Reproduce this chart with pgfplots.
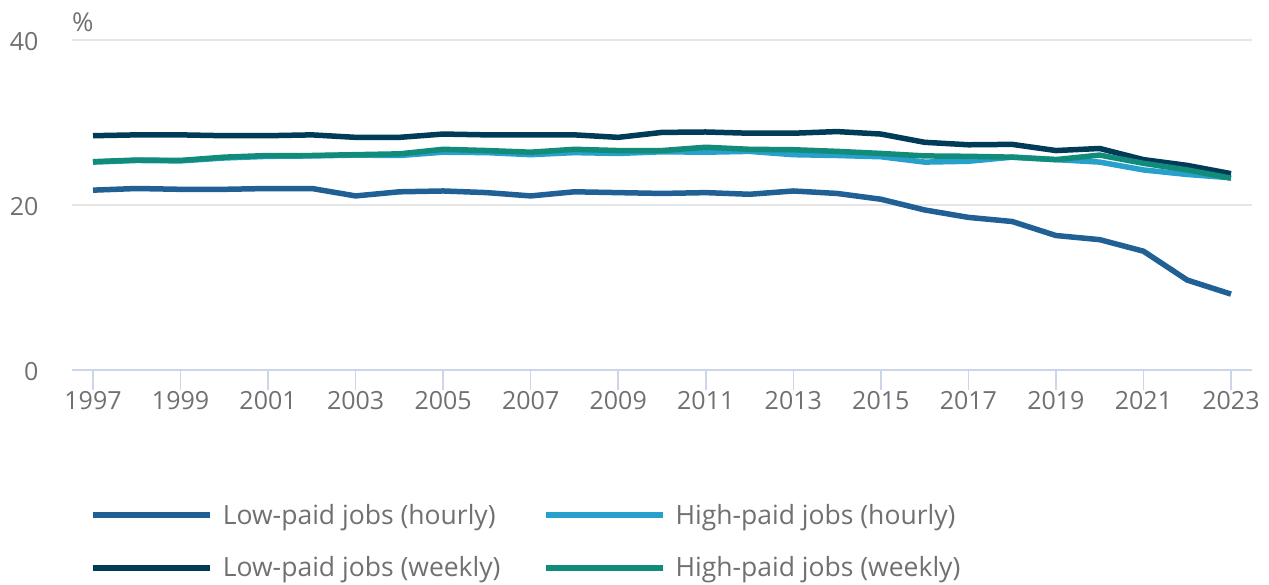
\documentclass[border=0pt]{standalone}
\usepackage{pgfplots}
\pgfplotsset{compat=1.18}
\usepackage{fontspec}
\setmainfont{Open Sans}
\definecolor{lowh}{HTML}{206095}
\definecolor{highh}{HTML}{27A0CC}
\definecolor{loww}{HTML}{003C57}
\definecolor{highw}{HTML}{118C7B}
\definecolor{txt}{HTML}{707070}
\definecolor{grid}{HTML}{E6E6E6}
\definecolor{axl}{HTML}{CCD6EB}
\begin{document}
\begin{tikzpicture}
\useasboundingbox (0,0) rectangle (1269pt,584pt);
\begin{axis}[
  at={(72pt,214pt)}, anchor=south west,
  scale only axis, width=1180pt, height=330pt,
  xmin=1996.52, xmax=2023.48, ymin=0, ymax=40,
  axis x line*=bottom, axis y line*=left,
  x axis line style={draw=axl, line width=1.5pt, -},
  y axis line style={draw=none},
  xtick={1997,1999,...,2023},
  ytick={0,20,40},
  ymajorgrids, grid style={draw=grid, line width=1.5pt},
  tick align=outside,
  major tick length=20pt,
  xtick style={draw=axl, line width=1.5pt},
  ytick style={draw=none},
  /pgf/number format/assume math mode=true,
  /pgf/number format/1000 sep={},
  tick label style={font=\fontsize{25}{30}\selectfont, text=txt},
  xticklabel style={yshift=2pt},
  yticklabel style={xshift=-10pt, yshift=-2pt},
  clip=false,
  legend columns=2,
  legend style={at={(0.015,-0.40)}, anchor=north west, draw=none, fill=none,
    font=\fontsize{26.5}{31}\selectfont, text=txt, row sep=27pt, inner sep=0pt,
    /tikz/every odd column/.append style={column sep=8pt},
    /tikz/every even column/.append style={column sep=40pt}},
  legend cell align=left,
  legend image code/.code={\draw[#1, line width=6pt] (0pt,0pt) -- (117pt,0pt);},
  every axis plot/.append style={line width=5.5pt, line join=round},
]
\addplot[lowh] coordinates {
(1997,21.8)(1998,22.0)(1999,21.9)(2000,21.9)(2001,22.0)(2002,22.0)(2003,21.1)(2004,21.6)(2005,21.7)(2006,21.5)(2007,21.1)(2008,21.6)(2009,21.5)(2010,21.4)(2011,21.5)(2012,21.3)(2013,21.7)(2014,21.4)(2015,20.7)(2016,19.4)(2017,18.5)(2018,18.0)(2019,16.3)(2020,15.8)(2021,14.4)(2022,10.9)(2023,9.2)};
\addlegendentry{Low-paid jobs (hourly)}
\addplot[highh] coordinates {
(1997,25.2)(1998,25.4)(1999,25.35)(2000,25.7)(2001,25.9)(2002,25.95)(2003,26.05)(2004,26.0)(2005,26.4)(2006,26.35)(2007,26.1)(2008,26.35)(2009,26.25)(2010,26.45)(2011,26.4)(2012,26.5)(2013,26.1)(2014,26.0)(2015,25.85)(2016,25.2)(2017,25.3)(2018,25.8)(2019,25.5)(2020,25.2)(2021,24.25)(2022,23.7)(2023,23.3)};
\addlegendentry{High-paid jobs (hourly)}
\addplot[loww] coordinates {
(1997,28.4)(1998,28.5)(1999,28.5)(2000,28.4)(2001,28.4)(2002,28.5)(2003,28.2)(2004,28.2)(2005,28.6)(2006,28.5)(2007,28.5)(2008,28.5)(2009,28.2)(2010,28.8)(2011,28.85)(2012,28.7)(2013,28.7)(2014,28.9)(2015,28.6)(2016,27.6)(2017,27.3)(2018,27.35)(2019,26.6)(2020,26.85)(2021,25.5)(2022,24.8)(2023,23.8)};
\addlegendentry{Low-paid jobs (weekly)}
\addplot[highw] coordinates {
(1997,25.25)(1998,25.45)(1999,25.4)(2000,25.8)(2001,26.0)(2002,26.0)(2003,26.1)(2004,26.2)(2005,26.75)(2006,26.6)(2007,26.4)(2008,26.75)(2009,26.6)(2010,26.6)(2011,27.0)(2012,26.75)(2013,26.7)(2014,26.5)(2015,26.25)(2016,25.95)(2017,25.9)(2018,25.8)(2019,25.5)(2020,26.05)(2021,25.05)(2022,24.25)(2023,23.25)};
\addlegendentry{High-paid jobs (weekly)}
\node[anchor=south west, inner sep=0pt, font=\fontsize{26}{30}\selectfont, text=txt] at (axis cs:1996.52,40) [yshift=8pt] {\%};
\end{axis}
\end{tikzpicture}
\end{document}
